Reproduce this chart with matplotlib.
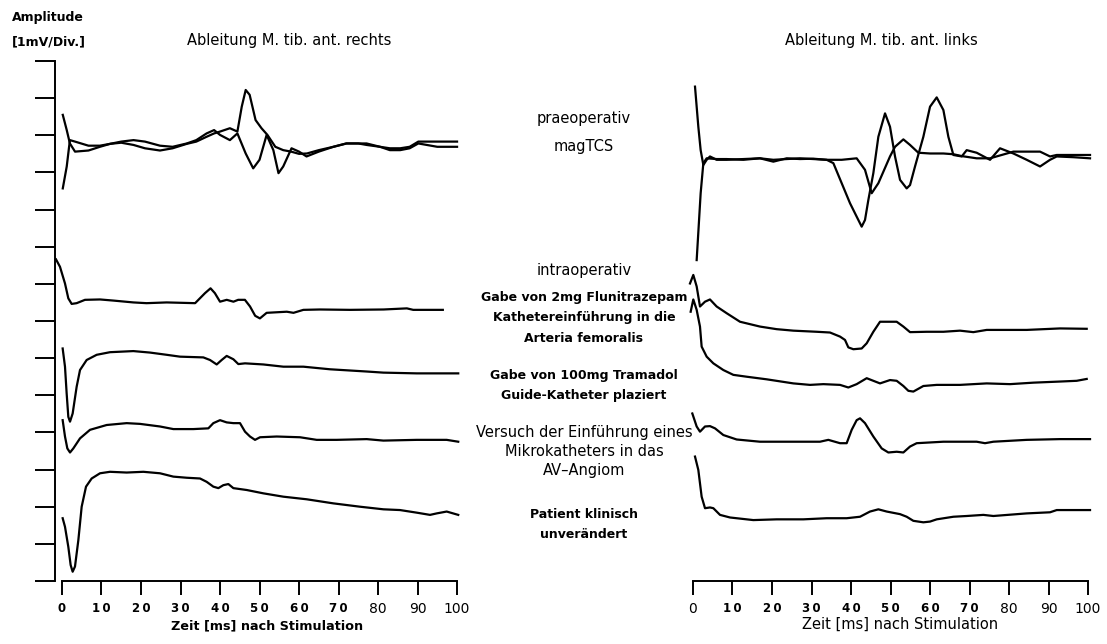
import matplotlib
matplotlib.use("Agg")
import matplotlib.pyplot as plt

# time axis in ms, amplitude in mV (1 division = 1 mV), traces stacked on the same scale
pre_r_a_t = [0.2, 1.2, 2.0, 3.3, 6.7, 9.6, 12.2, 15, 18.1, 21, 24.8, 28, 31.6, 34, 36.6, 38.5, 40, 42.5, 44.4, 45.5,
             46.5, 47.5, 49, 50.5, 52, 54, 56, 58, 60, 62, 65, 68.7, 72, 75, 77.1, 80.5, 83, 85.6, 88, 90.2, 95, 100]
pre_r_a_v = [12.55, 12.14, 11.78, 11.56, 11.59, 11.69, 11.77, 11.80, 11.74, 11.65, 11.59, 11.65, 11.77, 11.83, 11.96,
             12.05, 12.10, 12.19, 12.10, 12.77, 13.22, 13.09, 12.41, 12.19, 12.01, 11.69, 11.60, 11.56, 11.50, 11.51,
             11.60, 11.69, 11.78, 11.78, 11.74, 11.69, 11.65, 11.65, 11.69, 11.83, 11.83, 11.83]
pre_r_b_t = [0.2, 1.2, 2.0, 3.3, 6.7, 9.6, 12.2, 15, 18.1, 21, 24.8, 28, 31.6, 34, 36.6, 38.5, 40, 42.5, 44.4, 46.5,
             48.4, 50, 51.8, 53.5, 54.8, 56, 58.1, 60, 61.9, 65, 68.7, 72, 75, 77.1, 80.5, 83, 85.6, 88, 90.2, 95, 100]
pre_r_b_v = [10.57, 11.16, 11.87, 11.83, 11.72, 11.72, 11.77, 11.83, 11.87, 11.83, 11.72, 11.69, 11.78, 11.87, 12.05,
             12.14, 12.01, 11.87, 12.05, 11.51, 11.11, 11.34, 12.01, 11.60, 10.98, 11.16, 11.65, 11.56, 11.43, 11.56,
             11.69, 11.78, 11.78, 11.78, 11.69, 11.60, 11.60, 11.65, 11.78, 11.69, 11.69]

flu_r_t = [-1.52, -0.51, 0.76, 1.60, 2.45, 3.71, 5.82, 9.62, 13.0, 18.06, 21.4, 26.5, 33.7, 34.9, 36.2, 37.6, 38.7,
           40.0, 41.7, 43.4, 44.6, 46.3, 47.6, 48.9, 50.1, 51.8, 56.9, 58.6, 61.1, 65.3, 72.9, 81.4, 87.3, 88.9, 96.4]
flu_r_v = [8.66, 8.46, 8.01, 7.61, 7.46, 7.48, 7.57, 7.58, 7.55, 7.50, 7.48, 7.50, 7.48, 7.61, 7.75, 7.88, 7.75,
           7.52, 7.57, 7.52, 7.57, 7.57, 7.39, 7.14, 7.07, 7.22, 7.25, 7.22, 7.30, 7.31, 7.30, 7.31, 7.34, 7.30, 7.30]

tra_r_t = [0.17, 0.76, 1.18, 1.60, 2.03, 2.70, 3.71, 4.56, 6.24, 8.78, 12.15, 18.06, 22.28, 26.5, 29.87, 35.78,
           37.47, 39.16, 40.42, 41.69, 43.38, 44.64, 46.33, 50.97, 56.03, 61.1, 67.85, 77.13, 81.35, 89.79, 100.3]
tra_r_v = [6.26, 5.77, 5.05, 4.42, 4.29, 4.51, 5.23, 5.68, 5.95, 6.09, 6.16, 6.19, 6.15, 6.09, 6.04, 6.02,
           5.95, 5.83, 5.95, 6.06, 5.97, 5.84, 5.86, 5.83, 5.77, 5.77, 5.70, 5.64, 5.61, 5.59, 5.59]

ver_r_t = [0.17, 0.76, 1.35, 2.03, 2.87, 4.56, 7.09, 11.31, 16.37, 19.75, 24.81, 28.19, 33.25, 37.05, 38.31, 40.0,
           41.69, 43.38, 45.06, 46.33, 47.59, 48.86, 50.13, 54.35, 60.25, 64.47, 69.54, 77.13, 81.35, 89.79, 97.38, 100.3]
ver_r_v = [4.33, 3.89, 3.57, 3.46, 3.57, 3.84, 4.07, 4.20, 4.25, 4.23, 4.16, 4.09, 4.09, 4.11, 4.25, 4.33,
           4.27, 4.25, 4.25, 4.02, 3.89, 3.80, 3.87, 3.89, 3.87, 3.80, 3.80, 3.82, 3.78, 3.80, 3.80, 3.75]

pat_r_t = [0.17, 0.76, 1.60, 2.19, 2.70, 3.29, 4.14, 4.98, 6.08, 7.51, 9.62, 12.15, 16.37, 20.59, 24.81, 28.19,
           31.56, 34.94, 36.62, 38.31, 39.58, 40.84, 42.11, 43.38, 46.75, 50.97, 56.03, 61.94, 68.69, 75.44, 81.35,
           85.57, 89.79, 93.16, 94.85, 97.38, 100.3]
pat_r_v = [1.69, 1.46, 0.92, 0.43, 0.25, 0.39, 1.10, 2.00, 2.54, 2.76, 2.90, 2.94, 2.92, 2.94, 2.90, 2.81,
           2.78, 2.76, 2.67, 2.54, 2.50, 2.58, 2.61, 2.50, 2.45, 2.36, 2.27, 2.20, 2.09, 2.00, 1.93,
           1.91, 1.84, 1.78, 1.82, 1.87, 1.78]

pre_l_a_t = [0.51, 1.35, 1.94, 2.62, 3.46, 4.30, 5.99, 8.52, 12.74, 16.96, 20.34, 23.71, 27.09, 30.46, 33.84, 35.53,
             37.64, 39.75, 41.43, 42.70, 43.54, 44.39, 45.65, 46.92, 48.61, 49.87, 51.14, 52.41, 54.09, 54.94, 56.2,
             58.31, 60.0, 61.69, 63.38, 64.64, 65.91, 68.02, 69.28, 71.81, 75.19, 77.72, 81.1, 84.47, 87.85, 90.38,
             92.07, 96.29, 100.5]
pre_l_a_v = [13.31, 12.23, 11.60, 11.20, 11.34, 11.43, 11.34, 11.34, 11.36, 11.38, 11.29, 11.38, 11.36, 11.37, 11.34,
             11.25, 10.71, 10.17, 9.81, 9.54, 9.72, 10.26, 10.98, 11.96, 12.59, 12.23, 11.43, 10.80, 10.57, 10.66,
             11.16, 11.96, 12.77, 13.02, 12.68, 11.96, 11.47, 11.43, 11.60, 11.53, 11.34, 11.65, 11.51, 11.34, 11.16,
             11.34, 11.43, 11.41, 11.38]
pre_l_b_t = [0.93, 1.94, 2.62, 3.46, 5.99, 8.52, 12.74, 16.96, 20.34, 27.09, 33.84, 37.64, 41.43, 43.54, 45.23, 46.92,
             49.87, 51.14, 53.25, 54.94, 57.05, 60.0, 63.38, 65.91, 68.02, 71.81, 75.19, 81.1, 84.47, 87.85, 90.38,
             92.07, 100.5]
pre_l_b_v = [8.64, 10.44, 11.25, 11.38, 11.36, 11.36, 11.34, 11.38, 11.34, 11.38, 11.34, 11.34, 11.38, 11.07, 10.44,
             10.71, 11.43, 11.69, 11.89, 11.74, 11.53, 11.51, 11.51, 11.49, 11.44, 11.38, 11.38, 11.56, 11.56, 11.56,
             11.43, 11.47, 11.47]

flu_l_t = [-0.76, 0.08, 0.93, 1.77, 3.04, 4.30, 5.99, 8.52, 11.90, 16.96, 21.18, 25.40, 31.31, 34.68, 37.22, 38.48,
           39.32, 40.59, 42.70, 43.97, 45.65, 47.34, 49.87, 51.56, 53.25, 54.94, 59.16, 63.38, 67.59, 70.97, 74.35,
           84.47, 92.91, 99.66]
flu_l_v = [8.01, 8.24, 7.93, 7.39, 7.52, 7.58, 7.39, 7.21, 6.98, 6.85, 6.78, 6.74, 6.71, 6.69, 6.58, 6.49,
           6.29, 6.24, 6.26, 6.40, 6.71, 6.98, 6.98, 6.98, 6.85, 6.70, 6.71, 6.71, 6.74, 6.70, 6.76,
           6.76, 6.80, 6.79]

tra_l_t = [-0.59, 0.08, 0.93, 1.77, 2.19, 3.46, 5.15, 7.68, 10.21, 13.59, 18.65, 25.40, 29.62, 32.99, 37.22, 39.32,
           41.43, 43.97, 45.65, 47.34, 49.87, 51.56, 53.25, 54.52, 55.78, 58.31, 61.69, 67.59, 74.35, 80.25, 86.16,
           92.91, 97.13, 99.66]
tra_l_v = [7.25, 7.58, 7.30, 6.85, 6.31, 6.04, 5.86, 5.68, 5.55, 5.50, 5.43, 5.32, 5.28, 5.30, 5.28, 5.21,
           5.30, 5.46, 5.39, 5.32, 5.41, 5.39, 5.25, 5.12, 5.10, 5.25, 5.28, 5.28, 5.32, 5.30, 5.34,
           5.37, 5.39, 5.44]

ver_l_t = [-0.17, 0.93, 1.77, 3.04, 4.30, 5.57, 7.68, 11.05, 16.96, 25.40, 32.15, 34.26, 37.22, 38.90, 40.17, 41.43,
           42.28, 43.54, 45.65, 47.76, 49.45, 51.56, 53.25, 54.94, 56.62, 63.38, 71.81, 73.92, 76.03, 84.47, 92.91,
           100.5]
ver_l_v = [4.51, 4.16, 4.02, 4.16, 4.17, 4.11, 3.93, 3.81, 3.75, 3.75, 3.75, 3.80, 3.71, 3.71, 4.07, 4.33,
           4.38, 4.25, 3.89, 3.57, 3.46, 3.48, 3.46, 3.62, 3.71, 3.75, 3.75, 3.71, 3.75, 3.80, 3.82,
           3.82]

pat_l_t = [0.51, 1.35, 2.19, 3.04, 4.30, 5.15, 6.84, 9.37, 15.27, 21.18, 27.93, 33.84, 38.90, 42.28, 44.81, 46.92,
           49.03, 52.41, 54.09, 55.78, 58.31, 60.0, 61.69, 65.91, 69.28, 73.50, 76.03, 84.47, 90.38, 92.07, 100.5]
pat_l_v = [3.35, 2.99, 2.27, 1.96, 1.98, 1.96, 1.78, 1.71, 1.64, 1.66, 1.66, 1.69, 1.69, 1.73, 1.87, 1.93,
           1.87, 1.80, 1.73, 1.62, 1.58, 1.60, 1.66, 1.73, 1.75, 1.78, 1.75, 1.82, 1.85, 1.91, 1.91]

x_ticks = [0, 10, 20, 30, 40, 50, 60, 70, 80, 90, 100]
y_ticks = list(range(15))

# middle column annotations: (text, bold?)
labels_mid = [
    ("praeoperativ", False),
    ("magTCS", False),
    ("intraoperativ", False),
    ("Gabe von 2mg Flunitrazepam", True),
    ("Kathetereinführung in die", True),
    ("Arteria femoralis", True),
    ("Gabe von 100mg Tramadol", True),
    ("Guide-Katheter plaziert", True),
    ("Versuch der Einführung eines", False),
    ("Mikrokatheters in das", False),
    ("AV\u2013Angiom", False),
    ("Patient klinisch", True),
    ("unverändert", True),
]
labels_mid_y = [118, 146, 271, 298, 318, 338, 376, 396, 433, 452, 471, 515, 535]

W, H = 1107, 644
plt.rcParams["font.family"] = ["DejaVu Sans"]
fig = plt.figure(figsize=(W / 100, H / 100), dpi=100)


def fx(px):
    return px / W


def fy(py):
    return 1 - py / H


def setup(ax, bold_ticks, show_y):
    ax.set_xlim(-1.77, 101)
    ax.set_ylim(0, 14)
    for s in ["top", "right"]:
        ax.spines[s].set_visible(False)
    ax.spines["bottom"].set_bounds(0, 100)
    ax.spines["bottom"].set_linewidth(1.4)
    ax.set_xticks(x_ticks)
    # the bold scanned tick labels have wide letter spacing
    ax.set_xticklabels([("\u2009".join(str(t)) if b else str(t)) for t, b in zip(x_ticks, bold_ticks)])
    ax.tick_params(axis="x", direction="out", length=10, width=1.4, pad=5, labelsize=8.5)
    for lab, b in zip(ax.get_xticklabels(), bold_ticks):
        lab.set_fontweight("bold" if b else "normal")
        if not b:
            lab.set_fontsize(10)
    if show_y:
        ax.spines["left"].set_bounds(0, 14)
        ax.spines["left"].set_linewidth(1.4)
        ax.set_yticks(y_ticks)
        ax.set_yticklabels([])
        ax.tick_params(axis="y", direction="out", length=14.4, width=1.4)
    else:
        ax.spines["left"].set_visible(False)
        ax.set_yticks([])
    for sp in ax.spines.values():
        sp.set_clip_on(False)


ax_r = fig.add_axes([fx(55), fy(581), fx(406), 520 / H])
ax_l = fig.add_axes([fx(686), fy(581), fx(406), 520 / H])

setup(ax_r, [True] * 8 + [False] * 3, True)
setup(ax_l, [False] + [True] * 7 + [False] * 3, False)

kw = dict(color="black", lw=1.6, solid_joinstyle="round", clip_on=False)
for t, v in [(pre_r_a_t, pre_r_a_v), (pre_r_b_t, pre_r_b_v), (flu_r_t, flu_r_v),
             (tra_r_t, tra_r_v), (ver_r_t, ver_r_v), (pat_r_t, pat_r_v)]:
    ax_r.plot(t, v, **kw)
for t, v in [(pre_l_a_t, pre_l_a_v), (pre_l_b_t, pre_l_b_v), (flu_l_t, flu_l_v),
             (tra_l_t, tra_l_v), (ver_l_t, ver_l_v), (pat_l_t, pat_l_v)]:
    ax_l.plot(t, v, **kw)

fig.text(fx(48), fy(18), "Amplitude", ha="center", va="center", fontsize=9, fontweight="bold")
fig.text(fx(49), fy(42), "[1mV/Div.]", ha="center", va="center", fontsize=9, fontweight="bold")
fig.text(fx(289), fy(40), "Ableitung M. tib. ant. rechts", ha="center", va="center", fontsize=10.5)
fig.text(fx(881), fy(40), "Ableitung M. tib. ant. links", ha="center", va="center", fontsize=10.5)
fig.text(fx(267), fy(626), "Zeit [ms] nach Stimulation", ha="center", va="center", fontsize=9.2, fontweight="bold")
fig.text(fx(900), fy(624), "Zeit [ms] nach Stimulation", ha="center", va="center", fontsize=10.5)

for (txt, b), y in zip(labels_mid, labels_mid_y):
    fig.text(fx(584), fy(y), txt, ha="center", va="center",
             fontsize=9 if b else 10.5, fontweight="bold" if b else "normal")

fig.savefig("out.png", dpi=100)
